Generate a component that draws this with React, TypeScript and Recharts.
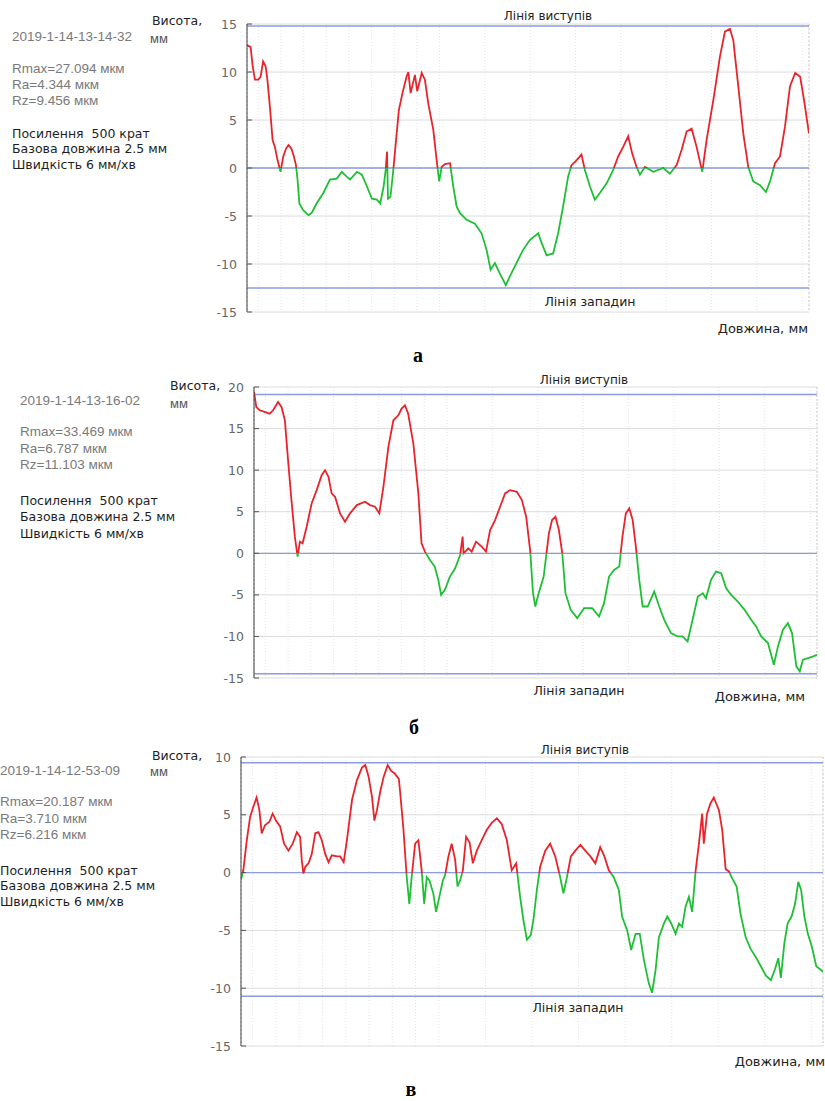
import React from "react";
import { LineChart, Line, XAxis, YAxis, CartesianGrid, ReferenceLine } from "recharts";

// profile a: [length, height]
const profileA: [number, number][] = [
  [0, 12.8], [1.6, 12.6], [2.5, 10.6], [3.5, 9.2], [5, 9.2], [6, 9.5], [7.1, 11.1], [8.2, 10.6],
  [9, 9.2], [10.1, 6.4], [11.3, 2.9], [12.3, 2.2], [13.5, 0.8], [14.8, -0.4], [16, 1.2], [17.2, 2.0],
  [18.3, 2.4], [19.6, 2.0], [20.7, 1.2], [21.6, 0.3], [22.3, -1.2], [23.1, -3.7], [24.8, -4.4],
  [27.1, -4.9], [28.5, -4.7], [30.7, -3.7], [33.7, -2.6], [36.6, -1.2], [39.6, -1.1], [41.8, -0.4],
  [44, -0.9], [45.5, -1.2], [48.5, -0.4], [50.7, -0.7], [52.9, -1.9], [55.1, -3.2], [57.3, -3.3],
  [58.8, -3.7], [60.3, -1.9], [61.2, -0.2], [61.8, 1.7], [62.2, -3.2], [63.3, -3.0], [64.4, -0.6],
  [65.5, 2.2], [67, 6.0], [68.6, 7.8], [70.4, 9.5], [71.2, 10.0], [72.2, 7.8], [74.1, 9.7], [75.1, 8.0],
  [77.1, 9.9], [78.5, 9.2], [80, 6.7], [82.2, 4.0], [83.7, 0.8], [84.8, -1.4], [85.9, 0.1], [87.3, 0.4],
  [89.6, 0.5], [91, -1.9], [92.5, -4.0], [94, -4.7], [96.9, -5.4], [100.6, -5.8], [103.5, -6.8],
  [105.7, -8.5], [107.5, -10.6], [109.4, -9.9], [111.6, -11.0], [114.2, -12.2], [116, -11.3],
  [118.9, -9.9], [121.9, -8.5], [124.8, -7.5], [128.5, -6.8], [130, -7.8], [132.2, -9.1], [135.1, -8.9],
  [137.3, -6.8], [139.5, -4.0], [141.7, -0.9], [143.2, 0.3], [145.4, 0.8], [147.6, 1.4], [149.1, -0.2],
  [151.3, -1.9], [153.5, -3.3], [155.7, -2.6], [158.7, -1.6], [161.6, -0.2], [163.8, 1.2], [166, 2.2],
  [168.2, 3.3], [170, 1.5], [171.9, 0.1], [173.4, -0.7], [175.6, 0.1], [179.3, -0.4], [183.7, 0.0],
  [186.6, -0.6], [189.6, 0.3], [191.8, 1.9], [194, 3.8], [196.2, 4.1], [198.4, 2.2], [200.9, -0.4],
  [202.8, 2.9], [205.8, 7.1], [208.7, 11.6], [210.9, 14.2], [213.1, 14.5], [214.6, 13.3], [216.8, 8.5],
  [219, 3.6], [221.2, 0.1], [223.4, -1.4], [226.4, -1.8], [229, -2.5], [230.8, -1.4], [233, 0.5],
  [235.2, 1.2], [237.4, 4.3], [239.6, 8.5], [241.9, 9.9], [244.1, 9.5], [245.8, 7.1], [247.3, 4.7],
  [248, 3.6],
];

// profile б
const profileB: [number, number][] = [
  [0, 19.4], [1, 17.6], [2.5, 17.2], [4.7, 17.0], [6.9, 16.8], [8.4, 17.2], [10.6, 18.2], [12.1, 17.6],
  [13.6, 16.0], [15, 11.2], [16.5, 6.4], [18, 2.0], [19.2, -0.4], [20.2, 1.4], [21.4, 1.2], [23.2, 3.2],
  [25.4, 6.0], [27.6, 7.6], [29.8, 9.4], [31.3, 10.0], [32.8, 9.2], [34.2, 7.2], [35.7, 6.8],
  [37.9, 4.8], [40.1, 3.8], [42.3, 4.8], [45.3, 5.8], [48.9, 6.2], [51.1, 5.8], [53.3, 5.6], [55.2, 4.8],
  [57, 8.0], [59.2, 12.8], [61.4, 16.0], [63.6, 16.6], [65, 17.4], [66.5, 17.8], [67.9, 16.8],
  [70.2, 13.2], [72.4, 7.2], [73.8, 1.2], [75.3, 0.2], [77.5, -0.8], [79.6, -1.6], [81.2, -3.2],
  [82.4, -5.0], [84.1, -4.4], [86.3, -2.8], [88.6, -1.8], [90.8, -0.2], [91.9, 2.0], [92.3, 0.0],
  [94.4, 0.6], [95.9, 0.2], [97.8, 1.4], [100.3, 0.8], [102.2, 0.2], [104, 2.8], [106.2, 4.0],
  [108.4, 5.6], [110.6, 7.2], [112.8, 7.6], [115.8, 7.4], [118, 6.4], [119.9, 4.4], [121.7, 0.2],
  [122.9, -4.8], [123.9, -6.4], [125.4, -4.8], [127.6, -2.8], [129.9, 2.4], [131.3, 4.0], [132.8, 4.4],
  [134.3, 2.8], [135.8, 0.0], [137.2, -4.8], [139.5, -6.8], [142.4, -7.8], [145.4, -6.6], [149, -6.6],
  [152, -7.6], [154.2, -6.0], [156.4, -2.8], [158.6, -2.0], [160.9, -1.6], [162.3, 2.0], [163.8, 4.8],
  [165.3, 5.4], [166.8, 4.0], [168.2, 0.8], [169.7, -3.2], [171.2, -6.4], [173.4, -6.4], [176.3, -4.6],
  [178.5, -6.4], [180.7, -8.0], [183.7, -9.6], [186.6, -10.0], [188.8, -10.0], [191, -10.6],
  [193.2, -8.0], [195.5, -5.2], [197.7, -4.8], [199.1, -5.4], [201.3, -3.2], [203.5, -2.2],
  [205.8, -2.4], [208, -4.2], [210.2, -5.0], [213.1, -5.8], [216.1, -6.8], [219, -8.0], [221.2, -8.8],
  [223.4, -10.0], [226.4, -10.8], [229, -13.4], [230.8, -11.2], [233, -9.2], [235.2, -8.4],
  [237, -9.6], [238.9, -13.6], [240.4, -14.2], [241.8, -12.8], [244.1, -12.6], [246.3, -12.4],
  [248, -12.2],
];

// profile в
const profileC: [number, number][] = [
  [0, -0.6], [1, 0.2], [2.5, 2.8], [3.9, 4.8], [5.3, 5.7], [6.7, 6.5], [7.9, 5.4], [8.9, 3.4],
  [10.3, 4.1], [12.2, 4.4], [13.6, 5.1], [15, 4.5], [16.8, 4.0], [18.5, 2.5], [20.4, 1.9], [22.2, 2.5],
  [24, 3.5], [25.4, 3.1], [26.1, 1.1], [26.8, -0.1], [27.6, 0.5], [29, 0.8], [30.4, 1.6], [31.9, 3.4],
  [33.3, 3.5], [34.7, 2.8], [36.2, 1.6], [37.6, 0.9], [39, 1.5], [41.2, 1.4], [42.6, 1.4], [44.1, 0.9],
  [45.5, 2.8], [47.7, 6.3], [49.8, 8.0], [52, 9.1], [53.4, 9.3], [54.8, 8.3], [56.3, 6.5], [57.3, 4.5],
  [58.4, 5.4], [59.9, 7.1], [61.3, 8.3], [63, 9.3], [64.5, 8.8], [65.9, 8.6], [67.8, 8.1], [68.3, 7.1],
  [69.8, 3.7], [71.2, -0.4], [72.3, -2.7], [73.3, -0.4], [74.8, 2.5], [76.2, 2.8], [77.6, 0.2],
  [78.7, -2.7], [79.8, -0.4], [81, -0.7], [82.6, -1.8], [83.8, -3.4], [85.2, -2.1], [86.7, -0.7],
  [87.7, -0.2], [89.1, 1.4], [90.5, 2.5], [92, 1.1], [93, -1.2], [94.1, -0.7], [95.3, 0.2], [96.7, 3.1],
  [98.2, 2.6], [99.6, 0.8], [101.3, 1.9], [103.4, 2.8], [105.6, 3.7], [107.7, 4.3], [109.9, 4.7],
  [112, 4.2], [114.2, 2.8], [116.3, 0.2], [118.2, 0.8], [119.9, -2.1], [121.3, -4.1], [122.8, -5.8],
  [124.5, -5.4], [125.6, -4.1], [127.1, -1.5], [128.5, 0.5], [130.7, 1.9], [132.8, 2.5], [135, 1.4],
  [137.1, -0.4], [138.5, -1.8], [140, -0.4], [141.7, 1.4], [143.6, 1.9], [145.8, 2.4], [147.9, 1.9],
  [150.1, 1.4], [152.2, 0.8], [154.3, 2.2], [156.1, 1.4], [158, 0.2], [160.1, -0.4], [162.3, -1.5],
  [163.7, -3.8], [165.9, -5.0], [167.6, -6.7], [169.5, -5.3], [171.3, -5.3], [173.1, -7.6],
  [175.2, -9.6], [176.6, -10.4], [178.1, -8.4], [179.5, -5.6], [181.7, -4.4], [183.1, -3.8],
  [184.8, -4.4], [186.7, -5.3], [188.1, -4.4], [189.5, -4.7], [191, -2.9], [192.4, -2.1], [193.8, -3.4],
  [195.3, 0.2], [196.7, 2.5], [198.1, 5.1], [198.8, 2.5], [200.2, 5.1], [201.7, 6.0], [203.1, 6.5],
  [205.3, 5.4], [206.7, 3.7], [208.2, 0.3], [209.6, 0.1], [211, -0.5], [212.9, -1.2], [214.6, -3.6],
  [216.8, -5.6], [218.9, -6.6], [221.1, -7.3], [223.3, -8.1], [225.4, -8.9], [227.6, -9.3],
  [229.3, -8.4], [230.8, -7.4], [231.9, -9.1], [233.4, -6.1], [234.8, -4.4], [236.5, -3.8],
  [238, -2.7], [239.4, -0.8], [240.6, -1.5], [242, -3.8], [243.5, -5.3], [245.2, -6.4], [247.1, -8.1],
  [249, -8.4], [250, -8.6],
];

const yTicksA = [-15, -10, -5, 0, 5, 10, 15];
const yTicksB = [-15, -10, -5, 0, 5, 10, 15, 20];
const yTicksC = [-15, -10, -5, 0, 5, 10];
const xTicksMajor = [0, 10, 20, 30, 40, 50, 60, 70, 80, 90, 100, 110, 120, 130, 140, 150, 160, 170, 180, 190, 200, 210, 220, 230, 240, 250];
const xTicksMinor = [5, 15, 25, 35, 45, 55, 65, 75, 85, 95, 105, 115, 125, 135, 145, 155, 165, 175, 185, 195, 205, 215, 225, 235, 245];

// peak line / valley line levels
const linesA = [14.8, -12.5];
const linesB = [19.1, -14.5];
const linesC = [9.5, -10.7];

const stamps = ["2019-1-14-13-14-32", "2019-1-14-13-16-02", "2019-1-14-12-53-09"];
const paramsA = ["Rmax=27.094 мкм", "Ra=4.344 мкм", "Rz=9.456 мкм"];
const paramsB = ["Rmax=33.469 мкм", "Ra=6.787 мкм", "Rz=11.103 мкм"];
const paramsC = ["Rmax=20.187 мкм", "Ra=3.710 мкм", "Rz=6.216 мкм"];
const settings = ["Посилення  500 крат", "Базова довжина 2.5 мм", "Швидкість 6 мм/хв"];
const captions = ["а", "б", "в"];

const W = 825;
const RED = "#e8232b";
const GREEN = "#1fbf35";
const BLUE = "#8c9be0";
const GRAY_FONT = '"Liberation Sans", Arial, sans-serif';
const DARK_FONT = '"DejaVu Sans", Verdana, sans-serif';

type Align = "left" | "right" | "center";

function Txt({ x, y, size = 12, color = "#222", family = DARK_FONT, weight = 400, align = "left", children }: {
  x: number; y: number; size?: number; color?: string; family?: string; weight?: number; align?: Align; children: React.ReactNode;
}) {
  const style: React.CSSProperties = {
    position: "absolute",
    top: y - size * 0.6,
    fontSize: size,
    lineHeight: `${size * 1.2}px`,
    color,
    fontFamily: family,
    fontWeight: weight,
    whiteSpace: "pre",
  };
  if (align === "right") style.right = W - x;
  else style.left = x;
  if (align === "center") style.transform = "translateX(-50%)";
  return <div style={style}>{children}</div>;
}

const LeftTick = (props: any) => {
  const { x, y, payload } = props;
  return (
    <g>
      <line x1={x} x2={x + 5} y1={y} y2={y} stroke="#555" />
      <text x={x - 10} y={y} dy={4.5} textAnchor="end" fontSize={12.5} fill="#666" fontFamily={DARK_FONT}>
        {payload.value}
      </text>
    </g>
  );
};

interface ProfileProps {
  id: string;
  points: [number, number][];
  top: number;
  height: number;
  plot: { left: number; top: number; right: number; bottom: number };
  yTicks: number[];
  xMax: number;
  levels: number[];
}

function Profile({ id, points, top, height, plot, yTicks, xMax, levels }: ProfileProps) {
  const data = points.map(([x, y]) => ({ x, y }));
  const yMin = yTicks[0];
  const yMax = yTicks[yTicks.length - 1];
  const zero = yMax / (yMax - yMin);
  const gid = `prof-${id}`;
  const major = xTicksMajor.filter((t) => t <= xMax);
  const minor = xTicksMinor.filter((t) => t <= xMax);
  return (
    <div style={{ position: "absolute", left: 0, top }}>
      <LineChart
        width={W}
        height={height}
        data={data}
        margin={{ top: plot.top - top, left: plot.left - 40, right: W - plot.right, bottom: top + height - plot.bottom }}
      >
        <defs>
          <linearGradient id={gid} gradientUnits="userSpaceOnUse" x1={0} y1={plot.top - top} x2={0} y2={plot.bottom - top}>
            <stop offset={zero} stopColor={RED} />
            <stop offset={zero} stopColor={GREEN} />
          </linearGradient>
        </defs>
        <CartesianGrid xAxisId="m" yAxisId="l" horizontal={false} stroke="#e2e2e2" strokeDasharray="1 2" />
        <CartesianGrid xAxisId="b" yAxisId="l" horizontal={false} stroke="#c9c9c9" strokeDasharray="2 2" />
        <CartesianGrid xAxisId="b" yAxisId="l" vertical={false} stroke="#dcdcdc" />
        <XAxis xAxisId="m" type="number" dataKey="x" domain={[0, xMax]} ticks={minor} hide allowDataOverflow />
        <XAxis xAxisId="b" type="number" dataKey="x" domain={[0, xMax]} ticks={major} interval={0} tick={false}
          mirror tickSize={5} height={0} axisLine={{ stroke: "#444" }} tickLine={{ stroke: "#444" }} allowDataOverflow />
        <XAxis xAxisId="t" orientation="top" type="number" dataKey="x" domain={[0, xMax]} ticks={major} interval={0}
          tick={false} mirror tickSize={5} height={0} axisLine={{ stroke: "#555" }} tickLine={{ stroke: "#555" }} allowDataOverflow />
        <YAxis yAxisId="l" type="number" domain={[yMin, yMax]} ticks={yTicks} interval={0} width={40}
          tickSize={0} tickMargin={0} tickLine={false} tick={<LeftTick />} axisLine={{ stroke: "#444" }} allowDataOverflow />
        <YAxis yAxisId="r" orientation="right" type="number" domain={[yMin, yMax]} ticks={yTicks} interval={0}
          width={0} mirror tickSize={5} tick={false} axisLine={{ stroke: "#555" }} tickLine={{ stroke: "#555" }} allowDataOverflow />
        <ReferenceLine xAxisId="b" yAxisId="l" y={levels[0]} stroke={BLUE} strokeWidth={1.5} />
        <ReferenceLine xAxisId="b" yAxisId="l" y={0} stroke={BLUE} strokeWidth={1.3} />
        <ReferenceLine xAxisId="b" yAxisId="l" y={levels[1]} stroke={BLUE} strokeWidth={1.5} />
        <Line xAxisId="b" yAxisId="l" type="linear" dataKey="y" stroke={`url(#${gid})`} strokeWidth={1.8}
          dot={false} activeDot={false} isAnimationActive={false} />
      </LineChart>
    </div>
  );
}

function Notes({ x, stamp, params, ys }: { x: number; stamp: string; params: string[]; ys: number[] }) {
  return (
    <>
      <Txt x={x} y={ys[0]} size={13.5} color="#7a7a7a" family={GRAY_FONT}>{stamp}</Txt>
      {params.map((p, i) => (
        <Txt key={p} x={x} y={ys[1 + i]} size={13.5} color="#7a7a7a" family={GRAY_FONT}>{p}</Txt>
      ))}
      {settings.map((s, i) => (
        <Txt key={s} x={x} y={ys[4 + i]} size={12.5} color="#1e1e1e">{s}</Txt>
      ))}
    </>
  );
}

export default function App() {
  return (
    <div style={{ position: "absolute", left: 0, top: 0, width: W, height: 1101, background: "#fff", overflow: "hidden" }}>
      {/* а */}
      <Profile id="a" points={profileA} top={0} height={345} plot={{ left: 247, top: 24, right: 809, bottom: 312 }}
        yTicks={yTicksA} xMax={248} levels={linesA} />
      <Notes x={12} stamp={stamps[0]} params={paramsA} ys={[37, 69, 85, 101, 133, 148, 164]} />
      <Txt x={152} y={20} size={12.5}>Висота,</Txt>
      <Txt x={150} y={39} size={13} color="#555" family={GRAY_FONT}>мм</Txt>
      <Txt x={548} y={16} size={12} align="center">Лінія виступів</Txt>
      <Txt x={590} y={301} size={12.5} align="center">Лінія западин</Txt>
      <Txt x={808} y={329} size={13} align="right">Довжина, мм</Txt>
      <Txt x={418} y={355} size={20} weight={700} color="#000" family='"Liberation Serif", serif' align="center">{captions[0]}</Txt>

      {/* б */}
      <Profile id="b" points={profileB} top={350} height={370} plot={{ left: 254, top: 387, right: 817, bottom: 678 }}
        yTicks={yTicksB} xMax={248} levels={linesB} />
      <Notes x={20} stamp={stamps[1]} params={paramsB} ys={[401, 432, 449, 465, 500, 516, 533]} />
      <Txt x={170} y={385} size={12.5}>Висота,</Txt>
      <Txt x={170} y={404} size={13} color="#555" family={GRAY_FONT}>мм</Txt>
      <Txt x={584} y={380} size={12} align="center">Лінія виступів</Txt>
      <Txt x={579} y={690} size={12.5} align="center">Лінія западин</Txt>
      <Txt x={805} y={697} size={13} align="right">Довжина, мм</Txt>
      <Txt x={414} y={727} size={20} weight={700} color="#000" family='"Liberation Serif", serif' align="center">{captions[1]}</Txt>

      {/* в */}
      <Profile id="c" points={profileC} top={725} height={376} plot={{ left: 241, top: 757, right: 823, bottom: 1046 }}
        yTicks={yTicksC} xMax={250} levels={linesC} />
      <Notes x={0} stamp={stamps[2]} params={paramsC} ys={[771, 802, 819, 835, 870, 885, 901]} />
      <Txt x={152} y={755} size={12.5}>Висота,</Txt>
      <Txt x={150} y={772} size={13} color="#555" family={GRAY_FONT}>мм</Txt>
      <Txt x={585} y={750} size={12} align="center">Лінія виступів</Txt>
      <Txt x={578} y={1007} size={12.5} align="center">Лінія западин</Txt>
      <Txt x={825} y={1062} size={13} align="right">Довжина, мм</Txt>
      <Txt x={411} y={1089} size={20} weight={700} color="#000" family='"Liberation Serif", serif' align="center">{captions[2]}</Txt>
    </div>
  );
}
